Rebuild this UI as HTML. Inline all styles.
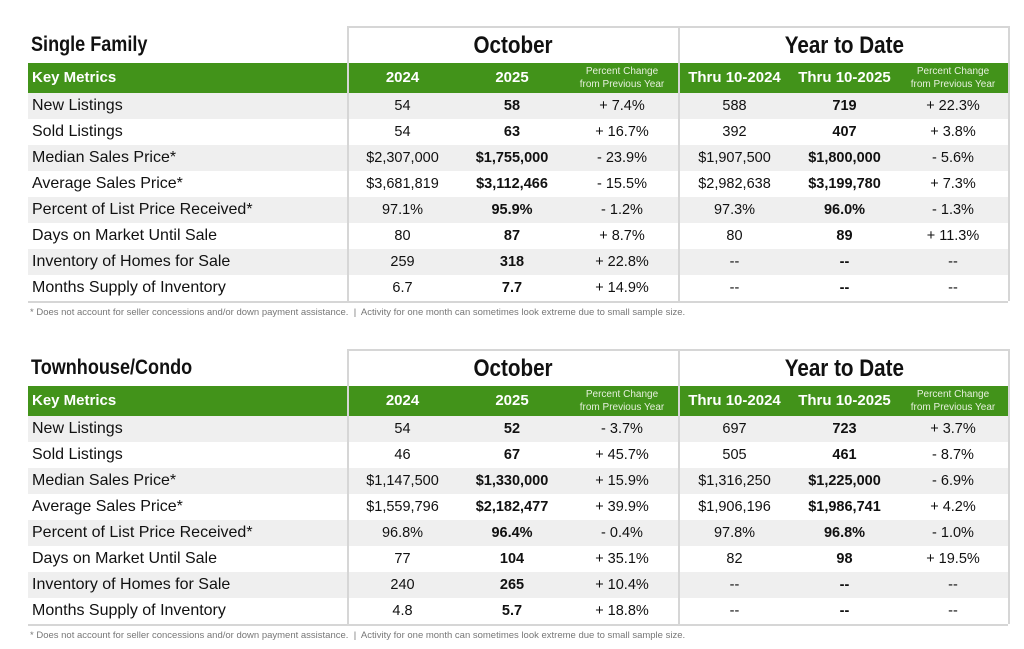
<!DOCTYPE html>
<html><head><meta charset="utf-8"><style>
body{margin:0;background:#fff;width:1024px;height:648px;position:relative;font-family:"Liberation Sans",Arial,sans-serif;color:#111;overflow:hidden}
.sec{position:absolute;left:28px;width:980px;z-index:3}
.title{position:absolute;top:0;height:37px;font-weight:bold;font-size:21px;line-height:37px;white-space:nowrap}
.t1{left:3px;font-size:21px;transform:scaleX(.86);transform-origin:left center}
.box{position:absolute;top:0;height:37px;border:2px solid #d6d6d6;border-bottom:none;box-sizing:border-box;text-align:center;font-weight:bold;font-size:24px;line-height:36px}
.box span{display:inline-block;transform:scaleX(.86)}
.hdr{position:absolute;top:37px;left:0;width:980px;height:30px;background:#42931a}
.row{position:absolute;left:0;width:980px;height:26px;font-size:14.5px;line-height:26px}
.row.g{background:#efefef}
.c{position:absolute;top:0;text-align:center;height:100%}
.lab{left:4px;font-size:16px}
.hc{color:#fff;font-weight:bold;font-size:15px;line-height:30px}
.pc{color:#e6f0dd;font-size:10px;line-height:13px;padding-top:2px}
.b{font-weight:bold}
.vl{position:absolute;width:2px;background:#d6d6d6;z-index:5}
.bot{position:absolute;left:0;width:980px;height:2px;background:#d6d6d6}
.fn{position:absolute;left:2px;font-size:9.5px;color:#777;white-space:nowrap}
</style></head><body>

<div class="sec" style="top:26px;height:300px">
 <div class="title t1">Single Family</div>
 <div class="box" style="left:319px;width:333px"><span>October</span></div>
 <div class="box" style="left:650px;width:332px"><span>Year to Date</span></div>
 <div class="hdr">
  <div class="c hc" style="left:4px;text-align:left">Key Metrics</div>
  <div class="c hc" style="left:319px;width:111px">2024</div>
  <div class="c hc" style="left:430px;width:108px">2025</div>
  <div class="c pc" style="left:538px;width:112px">Percent Change<br>from Previous Year</div>
  <div class="c hc" style="left:650px;width:113px">Thru 10-2024</div>
  <div class="c hc" style="left:763px;width:107px">Thru 10-2025</div>
  <div class="c pc" style="left:870px;width:110px">Percent Change<br>from Previous Year</div>
 </div>
</div>
<div class="vl" style="left:347px;top:26px;height:275px"></div>
<div class="vl" style="left:678px;top:26px;height:275px"></div>
<div class="vl" style="left:1008px;top:26px;height:275px"></div>

<div class="sec" style="top:349px;height:300px">
 <div class="title t1">Townhouse/Condo</div>
 <div class="box" style="left:319px;width:333px"><span>October</span></div>
 <div class="box" style="left:650px;width:332px"><span>Year to Date</span></div>
 <div class="hdr">
  <div class="c hc" style="left:4px;text-align:left">Key Metrics</div>
  <div class="c hc" style="left:319px;width:111px">2024</div>
  <div class="c hc" style="left:430px;width:108px">2025</div>
  <div class="c pc" style="left:538px;width:112px">Percent Change<br>from Previous Year</div>
  <div class="c hc" style="left:650px;width:113px">Thru 10-2024</div>
  <div class="c hc" style="left:763px;width:107px">Thru 10-2025</div>
  <div class="c pc" style="left:870px;width:110px">Percent Change<br>from Previous Year</div>
 </div>
</div>
<div class="vl" style="left:347px;top:349px;height:275px"></div>
<div class="vl" style="left:678px;top:349px;height:275px"></div>
<div class="vl" style="left:1008px;top:349px;height:275px"></div>

<script>
function rows(top,data){
 var h='';
 data.forEach(function(r,i){
  h+='<div class="row'+(i%2==0?' g':'')+'" style="left:28px;top:'+(top+i*26)+'px">'+
  '<div class="c lab">'+r[0]+'</div>'+
  '<div class="c" style="left:319px;width:111px">'+r[1]+'</div>'+
  '<div class="c b" style="left:430px;width:108px">'+r[2]+'</div>'+
  '<div class="c" style="left:538px;width:112px">'+r[3]+'</div>'+
  '<div class="c" style="left:650px;width:113px">'+r[4]+'</div>'+
  '<div class="c b" style="left:763px;width:107px">'+r[5]+'</div>'+
  '<div class="c" style="left:870px;width:110px">'+r[6]+'</div></div>';
 });
 h+='<div class="bot" style="left:28px;top:'+(top+208)+'px"></div>';
 h+='<div class="fn" style="left:30px;top:'+(top+214)+'px">* Does not account for seller concessions and/or down payment assistance. &nbsp;|&nbsp; Activity for one month can sometimes look extreme due to small sample size.</div>';
 document.write(h);
}
rows(93,[
["New Listings","54","58","+ 7.4%","588","719","+ 22.3%"],
["Sold Listings","54","63","+ 16.7%","392","407","+ 3.8%"],
["Median Sales Price*","$2,307,000","$1,755,000","- 23.9%","$1,907,500","$1,800,000","- 5.6%"],
["Average Sales Price*","$3,681,819","$3,112,466","- 15.5%","$2,982,638","$3,199,780","+ 7.3%"],
["Percent of List Price Received*","97.1%","95.9%","- 1.2%","97.3%","96.0%","- 1.3%"],
["Days on Market Until Sale","80","87","+ 8.7%","80","89","+ 11.3%"],
["Inventory of Homes for Sale","259","318","+ 22.8%","--","--","--"],
["Months Supply of Inventory","6.7","7.7","+ 14.9%","--","--","--"]
]);
rows(416,[
["New Listings","54","52","- 3.7%","697","723","+ 3.7%"],
["Sold Listings","46","67","+ 45.7%","505","461","- 8.7%"],
["Median Sales Price*","$1,147,500","$1,330,000","+ 15.9%","$1,316,250","$1,225,000","- 6.9%"],
["Average Sales Price*","$1,559,796","$2,182,477","+ 39.9%","$1,906,196","$1,986,741","+ 4.2%"],
["Percent of List Price Received*","96.8%","96.4%","- 0.4%","97.8%","96.8%","- 1.0%"],
["Days on Market Until Sale","77","104","+ 35.1%","82","98","+ 19.5%"],
["Inventory of Homes for Sale","240","265","+ 10.4%","--","--","--"],
["Months Supply of Inventory","4.8","5.7","+ 18.8%","--","--","--"]
]);
</script>
</body></html>
